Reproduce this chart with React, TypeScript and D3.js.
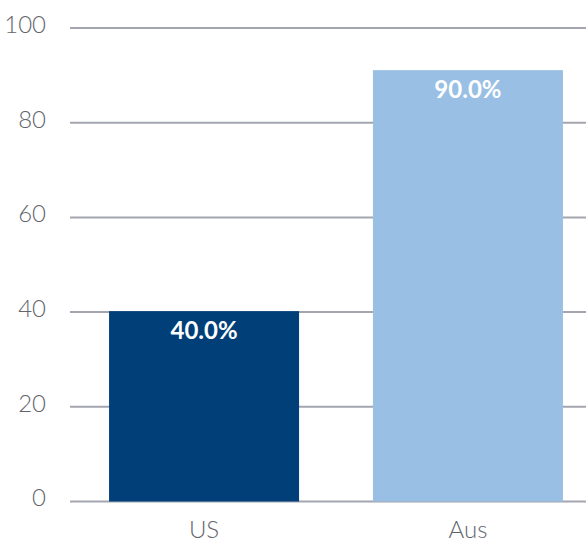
import React from "react";
import * as d3 from "d3";

const categories = ["US", "Aus"];
const values = [40.2, 91.1];
const valueLabels = ["40.0%", "90.0%"];
const barColors = ["#003f78", "#99bfe5"];
const yTicks = [0, 20, 40, 60, 80, 100];

const W = 586;
const H = 543;

export default function App() {
  const y = d3.scaleLinear().domain([0, 100]).range([501.5, 28]);
  const x = d3
    .scaleBand<string>()
    .domain(categories)
    .range([70, 602])
    .paddingInner(0.28)
    .paddingOuter(0.148);
  const font = "'Source Sans Pro', Lato, 'Open Sans', sans-serif";
  return (
    <svg
      width={W}
      height={H}
      style={{ position: "absolute", left: 0, top: 0, display: "block" }}
    >
      {yTicks.map((t) => (
        <g key={t}>
          <line
            x1={70}
            x2={586}
            y1={y(t)}
            y2={y(t)}
            stroke="#a3a6ae"
            strokeWidth={2}
          />
          <text
            x={46}
            y={y(t) - 1}
            textAnchor="end"
            dominantBaseline="middle"
            fontFamily={font}
            fontWeight={300}
            fontSize={24}
            fill="#62666c"
          >
            {t}
          </text>
        </g>
      ))}
      {categories.map((c, i) => (
        <g key={c}>
          <rect
            x={x(c)}
            y={y(values[i])}
            width={x.bandwidth()}
            height={y(0) - y(values[i])}
            fill={barColors[i]}
          />
          <text
            x={(x(c) as number) + x.bandwidth() / 2}
            y={y(values[i]) + 22}
            textAnchor="middle"
            dominantBaseline="middle"
            fontFamily={font}
            fontWeight={700}
            fontSize={24}
            fill="#ffffff"
          >
            {valueLabels[i]}
          </text>
          <text
            x={(x(c) as number) + x.bandwidth() / 2}
            y={532}
            textAnchor="middle"
            dominantBaseline="middle"
            fontFamily={font}
            fontWeight={300}
            fontSize={24}
            fill="#62666c"
          >
            {c}
          </text>
        </g>
      ))}
    </svg>
  );
}
